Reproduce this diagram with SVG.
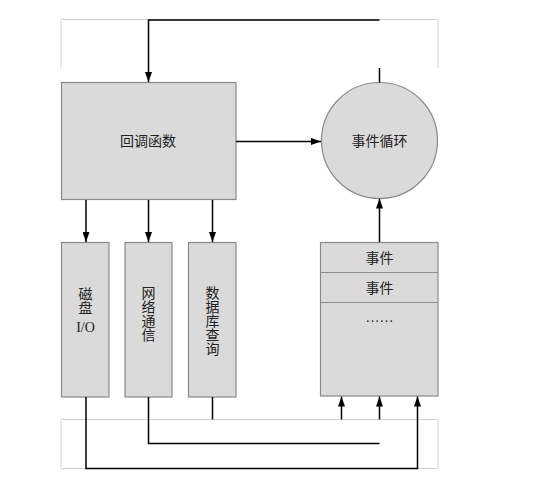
<svg xmlns="http://www.w3.org/2000/svg" width="558" height="482" viewBox="0 0 558 482">
<style>
.node{fill:#dadada;stroke:#8a8a8a;stroke-width:1.2}
.band{fill:none;stroke:#d0d0d0;stroke-width:1}
.wire{fill:none;stroke:#000;stroke-width:1.5}
.t{font-family:"Liberation Serif","Noto Sans CJK SC",serif;font-size:14px;fill:#222;text-anchor:middle;dominant-baseline:central}
</style>
<defs>
<marker id="ah2" viewBox="0 0 10 10" refX="10" refY="5" markerWidth="10" markerHeight="7" markerUnits="userSpaceOnUse" orient="auto" preserveAspectRatio="none">
<path d="M0,0 L10,5 L0,10 z" fill="#000"/>
</marker>
</defs>
<rect width="558" height="482" fill="#fff"/>
<g id="bands">
<path class="band" d="M61,68 V19.5 H438 V68"/>
<path class="band" d="M61,468.5 V419.5 H438 V468.5 M61,468.5 H438"/>
</g>
<g id="callback">
<rect class="node" x="61.5" y="82.5" width="174.5" height="117"/>
<text class="t" x="148" y="141">回调函数</text>
</g>
<g id="eventloop">
<circle class="node" cx="379.5" cy="140.5" r="58"/>
<text class="t" x="379.5" y="141">事件循环</text>
</g>
<g id="disk">
<rect class="node" x="61.5" y="242.5" width="47.5" height="154.5"/>
<text class="t" x="85.5" y="294">磁</text>
<text class="t" x="85.5" y="308">盘</text>
<text class="t" x="85.5" y="327">I/O</text>
</g>
<g id="network">
<rect class="node" x="125" y="242.5" width="47" height="154.5"/>
<text class="t" x="148.5" y="293.5">网</text>
<text class="t" x="148.5" y="307.5">络</text>
<text class="t" x="148.5" y="321.5">通</text>
<text class="t" x="148.5" y="335.5">信</text>
</g>
<g id="database">
<rect class="node" x="188.5" y="242.5" width="47.5" height="154.5"/>
<text class="t" x="212.5" y="293">数</text>
<text class="t" x="212.5" y="307">据</text>
<text class="t" x="212.5" y="321">库</text>
<text class="t" x="212.5" y="335">查</text>
<text class="t" x="212.5" y="349">询</text>
</g>
<g id="queue">
<rect class="node" x="320.5" y="242.5" width="117.5" height="153.5"/>
<line class="node" x1="320.5" y1="272.5" x2="438" y2="272.5"/>
<line class="node" x1="320.5" y1="302.5" x2="438" y2="302.5"/>
<text class="t" x="379.5" y="258">事件</text>
<text class="t" x="379.5" y="288">事件</text>
<text class="t" x="379.5" y="317">……</text>
</g>
<g id="connectors">
<path class="wire" d="M379.5,20 H148.5 V82" marker-end="url(#ah2)"/>
<path class="wire" d="M379.5,68 V82.5"/>
<path class="wire" d="M236,141.5 H321" marker-end="url(#ah2)"/>
<path class="wire" d="M86,200 V242" marker-end="url(#ah2)"/>
<path class="wire" d="M148.5,200 V242" marker-end="url(#ah2)"/>
<path class="wire" d="M212.5,200 V242" marker-end="url(#ah2)"/>
<path class="wire" d="M379.5,242 V198.5" marker-end="url(#ah2)"/>
<path class="wire" d="M86,397 V468.5 H417.5 V396.5" marker-end="url(#ah2)"/>
<path class="wire" d="M148.5,397 V443.5 H379.5"/>
<path class="wire" d="M212.5,397 V419.5"/>
<path class="wire" d="M341.5,419.5 V396.5" marker-end="url(#ah2)"/>
<path class="wire" d="M379.5,419.5 V396.5" marker-end="url(#ah2)"/>
</g>
</svg>
